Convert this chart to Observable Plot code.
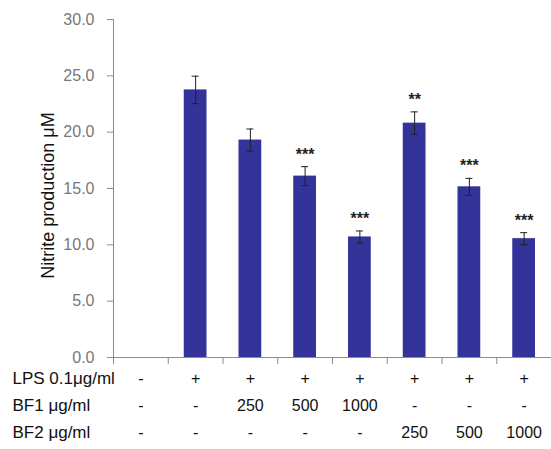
<!DOCTYPE html>
<html>
<head>
<meta charset="utf-8">
<script src="https://cdn.jsdelivr.net/npm/d3@7"></script>
<script src="https://cdn.jsdelivr.net/npm/@observablehq/plot@0.6"></script>
<style>
  html, body { margin: 0; padding: 0; background: #fff; }
  #chart svg { display: block; }
</style>
</head>
<body>
<div id="chart"></div>
<script>
// ---- data ----
const lps    = ["-", "+", "+", "+", "+", "+", "+", "+"];
const bf1    = ["-", "-", "250", "500", "1000", "-", "-", "-"];
const bf2    = ["-", "-", "-", "-", "-", "250", "500", "1000"];
const values = [null, 23.75, 19.3, 16.1, 10.7, 20.8, 15.15, 10.55];
const errors = [null, 1.22, 0.98, 0.84, 0.53, 1.0, 0.75, 0.53];
const stars  = ["", "", "", "***", "***", "**", "***", "***"];
const rowLabels = ["LPS 0.1\u03bcg/ml", "BF1 \u03bcg/ml", "BF2 \u03bcg/ml"];
const yTicks = [0, 5, 10, 15, 20, 25, 30];

const data = values.map((v, i) => ({i, v, e: errors[i], s: stars[i], lps: lps[i], bf1: bf1[i], bf2: bf2[i]}));
const bars = data.filter(d => d.v != null);
const rows = [["lps", 26], ["bf1", 53], ["bf2", 80]];

const axisGray = "#8c8c8c";
const font = "Liberation Sans, Arial, sans-serif";

const marks = [
  Plot.axisY({ticks: yTicks, tickFormat: d3.format(".1f"), tickSize: 6, tickPadding: 13,
               stroke: axisGray, color: "#777", fontSize: 16, label: null}),
  Plot.axisX({ticks: d3.range(9), tickFormat: () => "", tickSize: 7, stroke: axisGray, label: null}),
  Plot.rectY(bars, {x1: d => d.i, x2: d => d.i + 1, y: "v", fill: "#333399", insetLeft: 16, insetRight: 16}),
  Plot.ruleX(bars, {x: d => d.i + 0.5, y1: d => d.v - d.e, y2: d => d.v + d.e, stroke: "#222", strokeWidth: 1}),
  Plot.ruleY(bars, {y: d => d.v + d.e, x1: d => d.i + 0.5, x2: d => d.i + 0.5, insetLeft: -3.5, insetRight: -3.5, stroke: "#222"}),
  Plot.ruleY(bars, {y: d => d.v - d.e, x1: d => d.i + 0.5, x2: d => d.i + 0.5, insetLeft: -3.5, insetRight: -3.5, stroke: "#222"}),
  Plot.text(bars.filter(d => d.s), {x: d => d.i + 0.5, y: d => d.v + d.e, text: "s", dy: -12,
             fontSize: 16, fontWeight: "bold", fill: "#222"}),
  Plot.ruleX([0], {stroke: axisGray}),
  Plot.ruleY([0], {stroke: axisGray}),
  ...rows.map(([k, dy]) => Plot.text(data, {x: d => d.i + 0.5, text: k, frameAnchor: "bottom", dy,
             fontSize: 16, fill: "#111"})),
  ...rows.map(([k, dy], r) => Plot.text([rowLabels[r]], {frameAnchor: "bottom-left", dx: -101, dy,
             textAnchor: "start", fontSize: 17, fill: "#111"})),
  Plot.text(["Nitrite production \u03bcM"], {frameAnchor: "left", dx: -65, dy: 7, rotate: -90,
             textAnchor: "middle", fontSize: 18, fill: "#111"})
];

const chart = Plot.plot({
  width: 551,
  height: 449,
  marginLeft: 113,
  marginRight: 0,
  marginTop: 19,
  marginBottom: 92,
  style: {fontFamily: font, background: "#fff", overflow: "visible"},
  x: {domain: [0, 8]},
  y: {domain: [0, 30]},
  marks
});
document.getElementById("chart").appendChild(chart);
</script>
</body>
</html>
